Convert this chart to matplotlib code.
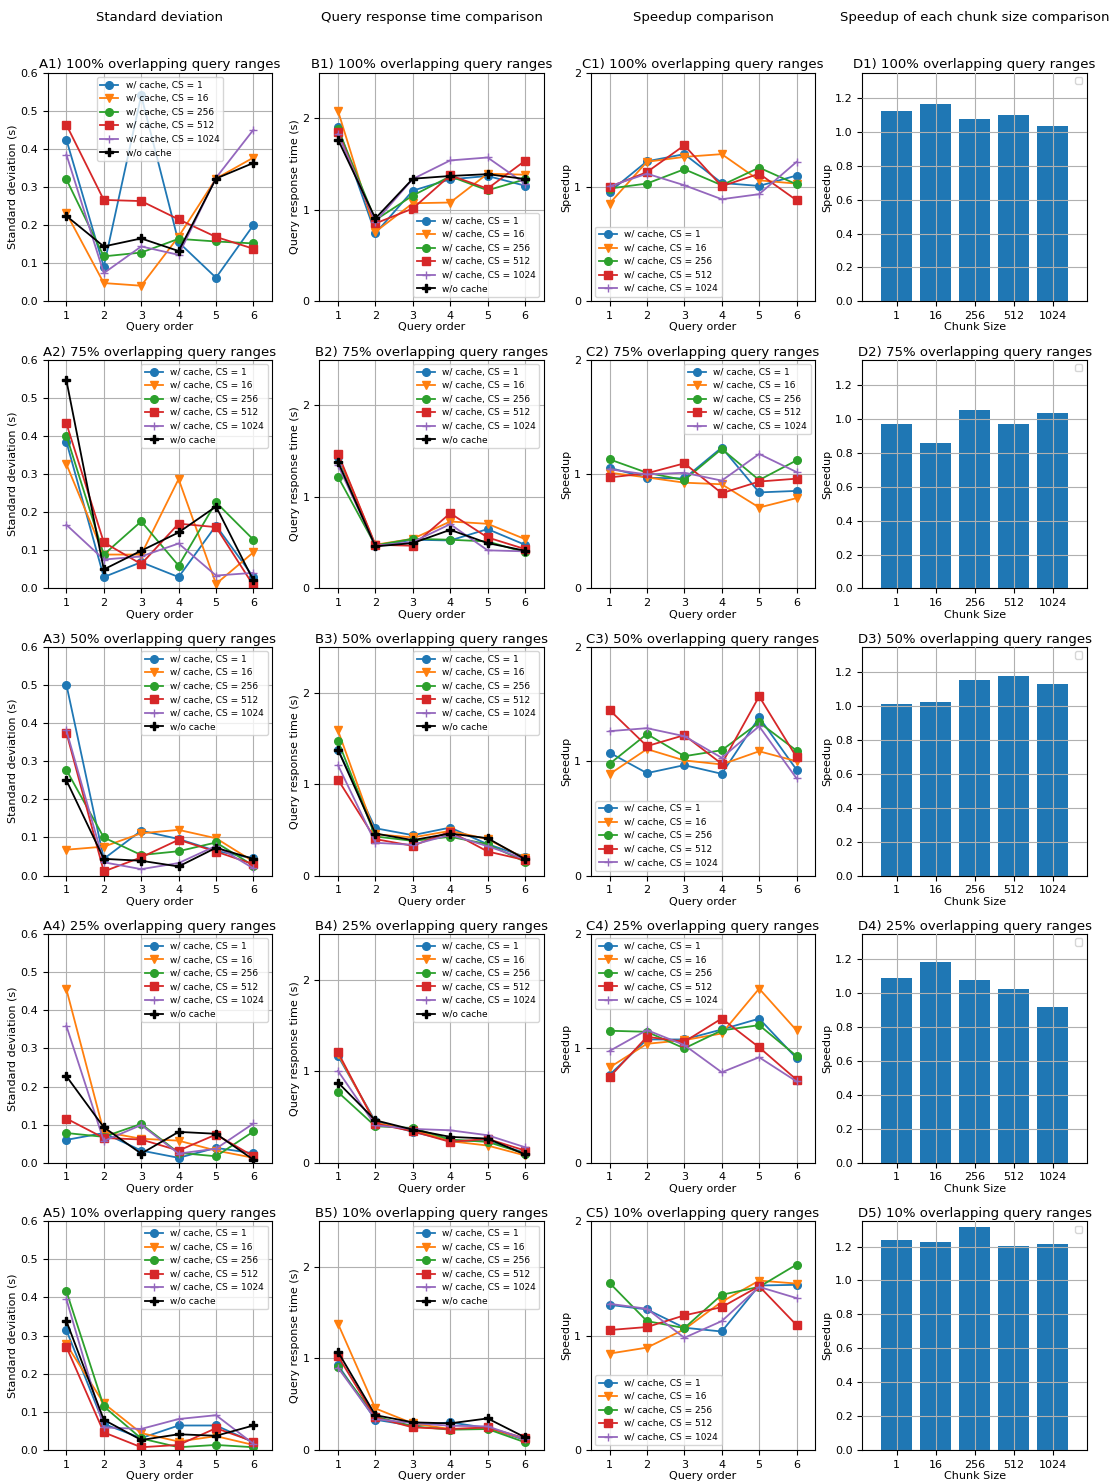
import matplotlib
matplotlib.use('Agg')
from matplotlib import pyplot as plt
import numpy as np

overlaps = ['100%', '75%', '50%', '25%', '10%']
chunk_sizes = ['1', '16', '256', '512', '1024']
query_order = [1, 2, 3, 4, 5, 6]
series_labels = ['w/ cache, CS = 1', 'w/ cache, CS = 16', 'w/ cache, CS = 256',
                 'w/ cache, CS = 512', 'w/ cache, CS = 1024', 'w/o cache']

# standard deviation (s), rows: CS=1,16,256,512,1024, w/o cache
std_100 = [[0.424, 0.091, 0.54, 0.155, 0.062, 0.20],
           [0.231, 0.048, 0.041, 0.17, 0.322, 0.377],
           [0.32, 0.118, 0.128, 0.164, 0.157, 0.152],
           [0.463, 0.266, 0.263, 0.215, 0.169, 0.138],
           [0.385, 0.074, 0.144, 0.122, 0.324, 0.45],
           [0.224, 0.144, 0.165, 0.132, 0.322, 0.363]]
std_75 = [[0.385, 0.030, 0.069, 0.030, 0.165, 0.030],
          [0.326, 0.089, 0.089, 0.287, 0.012, 0.095],
          [0.401, 0.089, 0.176, 0.060, 0.226, 0.128],
          [0.433, 0.121, 0.064, 0.170, 0.161, 0.008],
          [0.167, 0.076, 0.084, 0.118, 0.034, 0.041],
          [0.546, 0.050, 0.099, 0.147, 0.215, 0.021]]
std_50 = [[0.501, 0.044, 0.118, 0.096, 0.065, 0.045],
          [0.068, 0.076, 0.111, 0.120, 0.098, 0.037],
          [0.277, 0.100, 0.054, 0.064, 0.087, 0.026],
          [0.375, 0.011, 0.048, 0.094, 0.063, 0.030],
          [0.381, 0.035, 0.017, 0.033, 0.078, 0.019],
          [0.250, 0.044, 0.039, 0.024, 0.073, 0.044]]
std_25 = [[0.060, 0.078, 0.032, 0.013, 0.039, 0.025],
          [0.455, 0.081, 0.063, 0.058, 0.032, 0.013],
          [0.078, 0.068, 0.102, 0.026, 0.017, 0.082],
          [0.116, 0.065, 0.061, 0.032, 0.074, 0.017],
          [0.359, 0.057, 0.099, 0.024, 0.037, 0.103],
          [0.227, 0.093, 0.024, 0.081, 0.076, 0.008]]
std_10 = [[0.314, 0.068, 0.031, 0.064, 0.064, 0.020],
          [0.277, 0.122, 0.044, 0.022, 0.036, 0.013],
          [0.416, 0.114, 0.030, 0.007, 0.013, 0.007],
          [0.270, 0.046, 0.007, 0.013, 0.057, 0.022],
          [0.395, 0.059, 0.055, 0.081, 0.091, 0.016],
          [0.338, 0.079, 0.026, 0.041, 0.037, 0.064]]

# query response time (s)
qrt_100 = [[1.91, 0.743, 1.21, 1.333, 1.37, 1.264],
           [2.083, 0.76, 1.072, 1.08, 1.395, 1.384],
           [1.884, 0.888, 1.156, 1.366, 1.214, 1.333],
           [1.855, 0.851, 1.014, 1.377, 1.232, 1.536],
           [1.83, 0.87, 1.337, 1.54, 1.572, 1.286],
           [1.768, 0.906, 1.34, 1.37, 1.39, 1.337]]
qrt_75 = [[1.438, 0.46, 0.533, 0.525, 0.649, 0.478],
          [1.457, 0.478, 0.543, 0.732, 0.707, 0.54],
          [1.221, 0.471, 0.543, 0.533, 0.514, 0.395],
          [1.475, 0.478, 0.467, 0.822, 0.558, 0.431],
          [1.348, 0.467, 0.507, 0.703, 0.417, 0.406],
          [1.384, 0.46, 0.496, 0.641, 0.496, 0.413]]
qrt_50 = [[1.377, 0.518, 0.442, 0.525, 0.344, 0.207],
          [1.587, 0.453, 0.417, 0.489, 0.399, 0.188],
          [1.475, 0.428, 0.38, 0.424, 0.344, 0.152],
          [1.05, 0.399, 0.326, 0.482, 0.264, 0.17],
          [1.207, 0.359, 0.337, 0.446, 0.322, 0.181],
          [1.377, 0.46, 0.388, 0.46, 0.409, 0.181]]
qrt_25 = [[1.167, 0.453, 0.337, 0.243, 0.236, 0.109],
          [1.188, 0.435, 0.362, 0.236, 0.188, 0.08],
          [0.772, 0.399, 0.38, 0.254, 0.228, 0.101],
          [1.207, 0.428, 0.344, 0.228, 0.261, 0.134],
          [1.004, 0.409, 0.37, 0.355, 0.301, 0.17],
          [0.877, 0.464, 0.362, 0.283, 0.264, 0.091]]
qrt_10 = [[0.928, 0.33, 0.264, 0.301, 0.239, 0.109],
          [1.38, 0.453, 0.29, 0.228, 0.236, 0.12],
          [0.906, 0.366, 0.257, 0.221, 0.228, 0.083],
          [1.025, 0.355, 0.246, 0.228, 0.246, 0.127],
          [0.899, 0.337, 0.293, 0.264, 0.257, 0.12],
          [1.072, 0.38, 0.301, 0.29, 0.344, 0.138]]

# speedup per query, rows: CS=1,16,256,512,1024
spd_100 = [[0.957, 1.224, 1.287, 1.035, 1.009, 1.10],
           [0.855, 1.22, 1.263, 1.287, 1.058, 1.029],
           [0.986, 1.03, 1.155, 1.015, 1.169, 1.023],
           [1.0, 1.13, 1.364, 1.006, 1.116, 0.884],
           [1.006, 1.116, 1.015, 0.893, 0.937, 1.219]]
spd_75 = [[1.055, 0.968, 0.962, 1.232, 0.84, 0.853],
          [1.012, 0.971, 0.925, 0.911, 0.708, 0.79],
          [1.129, 1.012, 0.948, 1.22, 0.948, 1.12],
          [0.971, 1.007, 1.094, 0.833, 0.935, 0.96],
          [1.042, 0.997, 1.012, 0.943, 1.176, 1.018]]
spd_50 = [[1.075, 0.896, 0.966, 0.89, 1.383, 0.926],
          [0.887, 1.106, 1.007, 0.972, 1.087, 1.0],
          [0.977, 1.238, 1.044, 1.096, 1.339, 1.093],
          [1.448, 1.132, 1.228, 0.977, 1.567, 1.035],
          [1.263, 1.289, 1.219, 1.03, 1.306, 0.85]]
spd_25 = [[0.768, 1.078, 1.078, 1.165, 1.26, 0.914],
          [0.833, 1.04, 1.072, 1.13, 1.522, 1.157],
          [1.154, 1.145, 1.0, 1.157, 1.203, 0.933],
          [0.748, 1.101, 1.058, 1.261, 1.009, 0.726],
          [0.977, 1.16, 1.029, 0.791, 0.922, 0.711]]
spd_10 = [[1.268, 1.228, 1.068, 1.035, 1.437, 1.443],
          [0.842, 0.894, 1.054, 1.295, 1.48, 1.454],
          [1.46, 1.126, 1.065, 1.356, 1.425, 1.62],
          [1.048, 1.074, 1.176, 1.248, 1.431, 1.091],
          [1.277, 1.234, 0.98, 1.126, 1.425, 1.327]]

# speedup of each chunk size
chunk_100 = [1.125, 1.167, 1.078, 1.102, 1.037]
chunk_75 = [0.97, 0.857, 1.053, 0.97, 1.035]
chunk_50 = [1.01, 1.027, 1.156, 1.18, 1.133]
chunk_25 = [1.092, 1.182, 1.08, 1.027, 0.922]
chunk_10 = [1.239, 1.227, 1.315, 1.202, 1.215]

std_all = [std_100, std_75, std_50, std_25, std_10]
qrt_all = [qrt_100, qrt_75, qrt_50, qrt_25, qrt_10]
spd_all = [spd_100, spd_75, spd_50, spd_25, spd_10]
chunk_all = [chunk_100, chunk_75, chunk_50, chunk_25, chunk_10]

colors = ['#1f77b4', '#ff7f0e', '#2ca02c', '#d62728', '#9467bd', 'black']
markers = ['o', 'v', 'o', 's', '+', 'P']

loc_a = ['upper center', 'upper right', 'upper right', 'upper right', 'upper right']
loc_b = ['lower right', 'upper right', 'upper right', 'upper right', 'upper right']
loc_c = ['lower left', 'upper right', 'lower left', 'upper left', 'lower left']

fig, axes = plt.subplots(5, 4, figsize=(11.09, 14.81), dpi=100)
plt.subplots_adjust(left=0.043, right=0.980, top=0.951, bottom=0.021,
                    wspace=0.21, hspace=0.255)

headers = ['Standard deviation', 'Query response time comparison',
           'Speedup comparison', 'Speedup of each chunk size comparison']
for j, h in enumerate(headers):
    pos = axes[0, j].get_position()
    fig.text((pos.x0 + pos.x1) / 2, 0.988, h, ha='center', va='center', fontsize=9.5)


def lines(ax, data, n, loc):
    for k in range(n):
        ax.plot(query_order, data[k], color=colors[k], marker=markers[k],
                markersize=5.5, linewidth=1.3, label=series_labels[k])
    ax.set_xlim(0.5, 6.5)
    ax.set_xticks(query_order)
    ax.set_xlabel('Query order', fontsize=8, labelpad=1)
    ax.grid(True)
    ax.tick_params(labelsize=8)
    ax.legend(loc=loc, fontsize=6.5)


for i in range(5):
    tag = overlaps[i] + ' overlapping query ranges'
    ax = axes[i, 0]
    lines(ax, std_all[i], 6, loc_a[i])
    ax.set_ylim(0, 0.6)
    ax.set_ylabel('Standard deviation (s)', fontsize=8, labelpad=2)
    ax.set_title('A%d) %s' % (i + 1, tag), fontsize=9.5, pad=3)

    ax = axes[i, 1]
    lines(ax, qrt_all[i], 6, loc_b[i])
    ax.set_ylim(0, 2.5)
    ax.set_yticks([0, 1, 2])
    ax.set_ylabel('Query response time (s)', fontsize=8, labelpad=2)
    ax.set_title('B%d) %s' % (i + 1, tag), fontsize=9.5, pad=3)

    ax = axes[i, 2]
    lines(ax, spd_all[i], 5, loc_c[i])
    ax.set_ylim(0, 2)
    ax.set_yticks([0, 1, 2])
    ax.set_ylabel('Speedup', fontsize=8, labelpad=2)
    ax.set_title('C%d) %s' % (i + 1, tag), fontsize=9.5, pad=3)

    ax = axes[i, 3]
    ax.bar(range(len(chunk_sizes)), chunk_all[i], width=0.8, color='#1f77b4')
    ax.set_xticks(range(len(chunk_sizes)))
    ax.set_xticklabels(chunk_sizes)
    ax.set_xlim(-0.88, 4.88)
    ax.set_ylim(0, 1.35)
    ax.set_yticks(np.arange(0, 1.21, 0.2))
    ax.grid(True)
    ax.set_axisbelow(False)
    ax.tick_params(labelsize=8)
    ax.set_xlabel('Chunk Size', fontsize=8, labelpad=1)
    ax.set_ylabel('Speedup', fontsize=8, labelpad=2)
    ax.set_title('D%d) %s' % (i + 1, tag), fontsize=9.5, pad=3)
    ax.legend(handles=[], loc='upper right', fontsize=6.5)

fig.savefig('out.png', dpi=100)
